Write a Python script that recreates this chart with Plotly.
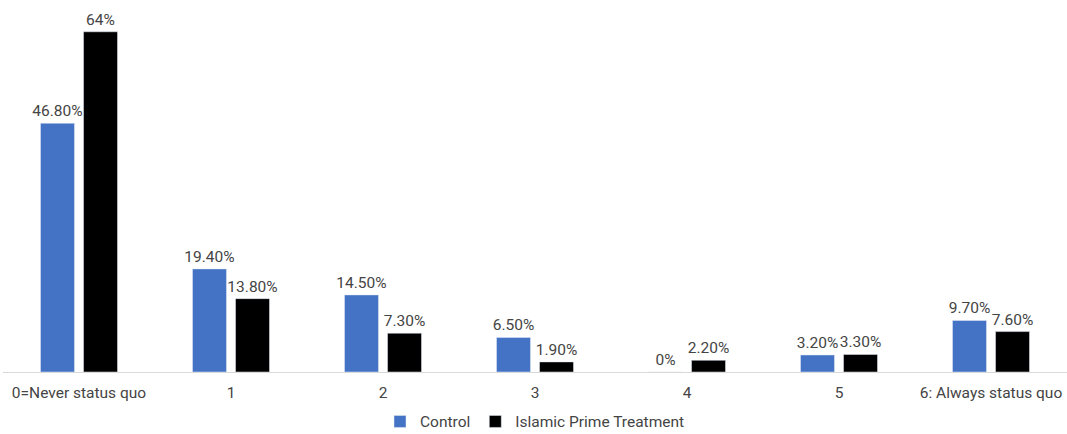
import plotly.graph_objects as go

categories = ["0=Never status quo", "1", "2", "3", "4", "5", "6: Always status quo"]
control = [46.8, 19.4, 14.5, 6.5, 0, 3.2, 9.7]
treatment = [64, 13.8, 7.3, 1.9, 2.2, 3.3, 7.6]
control_labels = ["46.80%", "19.40%", "14.50%", "6.50%", "0%", "3.20%", "9.70%"]
treatment_labels = ["64%", "13.80%", "7.30%", "1.90%", "2.20%", "3.30%", "7.60%"]

font = dict(family="Roboto, Arial, sans-serif", size=15.5, color="#444444")

fig = go.Figure()
fig.add_bar(x=categories, y=control, name="Control", marker_color="#4472C4",
            text=control_labels, textposition="outside", cliponaxis=False,
            constraintext="none", textfont=font)
fig.add_bar(x=categories, y=treatment, name="Islamic Prime Treatment", marker_color="#000000",
            text=treatment_labels, textposition="outside", cliponaxis=False,
            constraintext="none", textfont=font)

fig.update_layout(
    width=1067, height=434,
    margin=dict(l=3, r=0, t=10, b=62, autoexpand=False),
    paper_bgcolor="white", plot_bgcolor="white",
    barmode="group", bargap=0.434, bargroupgap=0.21,
    font=font,
    showlegend=True,
    legend=dict(orientation="h", x=0.5, xanchor="center", yref="container",
                y=0.028, yanchor="middle",
                font=font, itemwidth=30, traceorder="normal"),
    xaxis=dict(showline=True, linecolor="#d9d9d9", linewidth=1, showgrid=False,
               automargin=False,
               ticks="outside", ticklen=6, tickcolor="rgba(0,0,0,0)", tickfont=font),
    yaxis=dict(visible=False, range=[0, 68.1], showgrid=False, zeroline=False,
               automargin=False),
)

fig.write_html("out.html")
